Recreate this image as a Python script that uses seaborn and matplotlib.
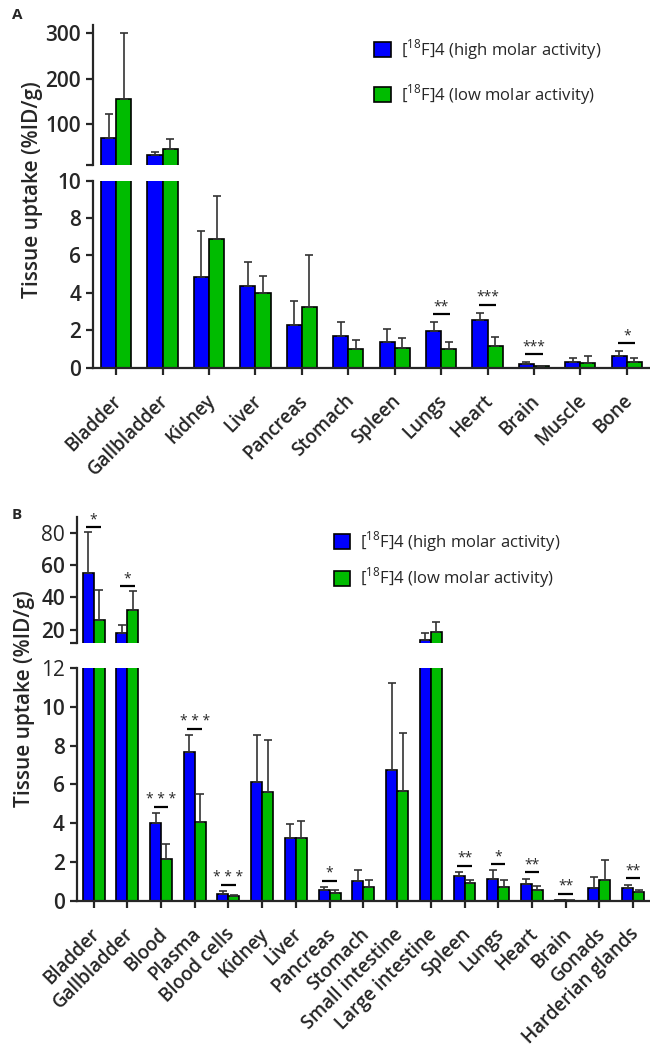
import pandas as pd
import matplotlib
matplotlib.use('Agg')
import matplotlib.pyplot as plt
import matplotlib.patches as mpatches
import matplotlib.transforms as mtrans
import seaborn as sns

# ---- data: panel A ----
tissues_a = ['Bladder', 'Gallbladder', 'Kidney', 'Liver', 'Pancreas', 'Stomach',
             'Spleen', 'Lungs', 'Heart', 'Brain', 'Muscle', 'Bone']
high_a = [70, 31.5, 4.86, 4.36, 2.25, 1.66, 1.39, 1.93, 2.52, 0.18, 0.27, 0.60]
high_a_sd = [53, 7.5, 2.47, 1.28, 1.30, 0.77, 0.66, 0.49, 0.42, 0.11, 0.24, 0.29]
low_a = [156, 44, 6.85, 3.97, 3.24, 0.99, 1.06, 0.99, 1.16, 0.07, 0.24, 0.31]
low_a_sd = [144, 22, 2.30, 0.93, 2.78, 0.47, 0.53, 0.38, 0.48, 0.03, 0.36, 0.18]
sig_a = {'Lungs': '**', 'Heart': '***', 'Brain': '***', 'Bone': '*'}

# ---- data: panel B ----
tissues_b = ['Bladder', 'Gallbladder', 'Blood', 'Plasma', 'Blood cells', 'Kidney',
             'Liver', 'Pancreas', 'Stomach', 'Small intestine', 'Large intestine',
             'Spleen', 'Lungs', 'Heart', 'Brain', 'Gonads', 'Harderian glands']
high_b = [54.8, 18, 4.00, 7.68, 0.38, 6.10, 3.25, 0.55, 1.03, 6.75, 13.5,
          1.28, 1.15, 0.89, 0.03, 0.64, 0.65]
high_b_sd = [25.6, 5.0, 0.51, 0.87, 0.12, 2.43, 0.72, 0.17, 0.54, 4.45, 4.3,
             0.21, 0.42, 0.26, 0.01, 0.59, 0.19]
low_b = [26, 32, 2.14, 4.07, 0.23, 5.59, 3.22, 0.39, 0.69, 5.64, 18.3,
         0.92, 0.72, 0.55, 0.02, 1.10, 0.45]
low_b_sd = [18.7, 11.9, 0.77, 1.44, 0.08, 2.69, 0.90, 0.17, 0.39, 3.0, 6.2,
            0.14, 0.38, 0.22, 0.01, 0.99, 0.11]
sig_b = {'Bladder': '*', 'Gallbladder': '*', 'Blood': '* * *', 'Plasma': '* * *',
         'Blood cells': '* * *', 'Pancreas': '*', 'Spleen': '**', 'Lungs': '*',
         'Heart': '**', 'Brain': '**', 'Harderian glands': '**'}

series = [r'[$^{18}$F]4 (high molar activity)', r'[$^{18}$F]4 (low molar activity)']
colors = ['#0000ff', '#00bb00']

sns.set_theme(style='ticks')
plt.rcParams['font.family'] = ['Open Sans', 'DejaVu Sans']
plt.rcParams['mathtext.fontset'] = 'custom'
plt.rcParams['mathtext.rm'] = 'Open Sans'
plt.rcParams['axes.linewidth'] = 1.6

fig = plt.figure(figsize=(6.5, 10.5), dpi=100)


def draw_panel(ax_top, ax_bot, tissues, high, high_sd, low, low_sd, sig,
               top_lim, top_ticks, bot_lim, bot_ticks, sig_off, sig_w):
    df = pd.DataFrame({
        'tissue': tissues * 2,
        'uptake': high + low,
        'series': [series[0]] * len(tissues) + [series[1]] * len(tissues),
    })
    sds = [high_sd, low_sd]
    for ax in (ax_top, ax_bot):
        sns.barplot(data=df, x='tissue', y='uptake', hue='series', palette=colors,
                    width=0.65, saturation=1, edgecolor='black', linewidth=1.2,
                    errorbar=None, legend=False, ax=ax)
        floor = top_lim[0] if ax is ax_top else -1
        for cont, sd in zip(ax.containers, sds):
            xs, hs, es = [], [], []
            for p, s in zip(cont.patches, sd):
                h = p.get_height()
                if h + s > floor:
                    xs.append(p.get_x() + p.get_width() / 2)
                    hs.append(h)
                    es.append(s)
            if xs:
                ax.errorbar(xs, hs, yerr=[[0] * len(es), es], fmt='none',
                            ecolor='#333333', elinewidth=1.2, capsize=3, capthick=1.2)
        ax.set_xlim(-0.5, len(tissues) - 0.5)
        ax.set_xlabel('')
        ax.set_ylabel('')
        ax.tick_params(axis='y', labelsize=15, length=5, width=1.6)
        for lab in ax.get_yticklabels():
            lab.set_fontweight('semibold')

    ax_top.set_ylim(*top_lim)
    ax_top.set_yticks(top_ticks)
    ax_top.set_yticks([top_lim[0]], minor=True)
    ax_top.tick_params(axis='y', which='minor', length=5, width=1.6)
    ax_top.tick_params(axis='x', bottom=False, labelbottom=False)
    for s in ('top', 'right', 'bottom'):
        ax_top.spines[s].set_visible(False)

    ax_bot.set_ylim(*bot_lim)
    ax_bot.set_yticks(bot_ticks)
    for s in ('top', 'right'):
        ax_bot.spines[s].set_visible(False)
    ax_bot.tick_params(axis='x', length=5, width=1.6, pad=17)
    ax_bot.set_xticks(range(len(tissues)))
    ax_bot.set_xticklabels(tissues, rotation=45, ha='right', va='center',
                           rotation_mode='anchor', fontsize=13.5, fontweight='semibold')
    shift = mtrans.ScaledTranslation(3 / 100, 0, fig.dpi_scale_trans)
    for lab in ax_bot.get_xticklabels():
        lab.set_transform(lab.get_transform() + shift)

    # significance marks
    for name, stars in sig.items():
        j = tissues.index(name)
        top = max(high[j] + high_sd[j], low[j] + low_sd[j])
        ax = ax_top if top > bot_lim[1] else ax_bot
        off = sig_off[1] if ax is ax_top else sig_off[0]
        y = top + off
        ax.hlines(y, j - sig_w / 2, j + sig_w / 2, color='black', lw=1.6)
        ax.text(j, y, stars, ha='center', va='bottom', fontsize=10)


# panel A
ax_a_top = fig.add_axes([0.143, 0.843, 0.857, 0.133])
ax_a_bot = fig.add_axes([0.143, 0.650, 0.857, 0.178])
draw_panel(ax_a_top, ax_a_bot, tissues_a, high_a, high_a_sd, low_a, low_a_sd, sig_a,
           (10, 318), [100, 200, 300], (0, 10), [0, 2, 4, 6, 8, 10], (0.42, 10), 0.37)

# panel B
ax_b_top = fig.add_axes([0.118, 0.388, 0.882, 0.120])
ax_b_bot = fig.add_axes([0.118, 0.142, 0.882, 0.222])
draw_panel(ax_b_top, ax_b_bot, tissues_b, high_b, high_b_sd, low_b, low_b_sd, sig_b,
           (12, 90), [20, 40, 60, 80], (0, 12), [0, 2, 4, 6, 8, 10, 12], (0.32, 3), 0.43)

handles = [mpatches.Patch(facecolor=c, edgecolor='black', linewidth=1.2) for c in colors]
fig.legend(handles, series, loc='upper left', bbox_to_anchor=(0.553, 0.979),
           frameon=False, fontsize=12, handlelength=1.0, handleheight=1.0,
           labelspacing=1.25, handletextpad=0.6)
fig.legend(handles, series, loc='upper left', bbox_to_anchor=(0.490, 0.510),
           frameon=False, fontsize=12, handlelength=1.0, handleheight=1.0,
           labelspacing=0.7, handletextpad=0.6)

fig.text(0.050, 1 - 190 / 1050, 'Tissue uptake (%ID/g)', rotation=90, ha='center',
         va='center', fontsize=15, fontweight='semibold')
fig.text(0.037, 1 - 699 / 1050, 'Tissue uptake (%ID/g)', rotation=90, ha='center',
         va='center', fontsize=15, fontweight='semibold')
fig.text(0.018, 0.986, 'A', fontsize=11, fontweight='bold', va='center')
fig.text(0.018, 1 - 515 / 1050, 'B', fontsize=11, fontweight='bold', va='center')

fig.savefig('out.png', dpi=100)
